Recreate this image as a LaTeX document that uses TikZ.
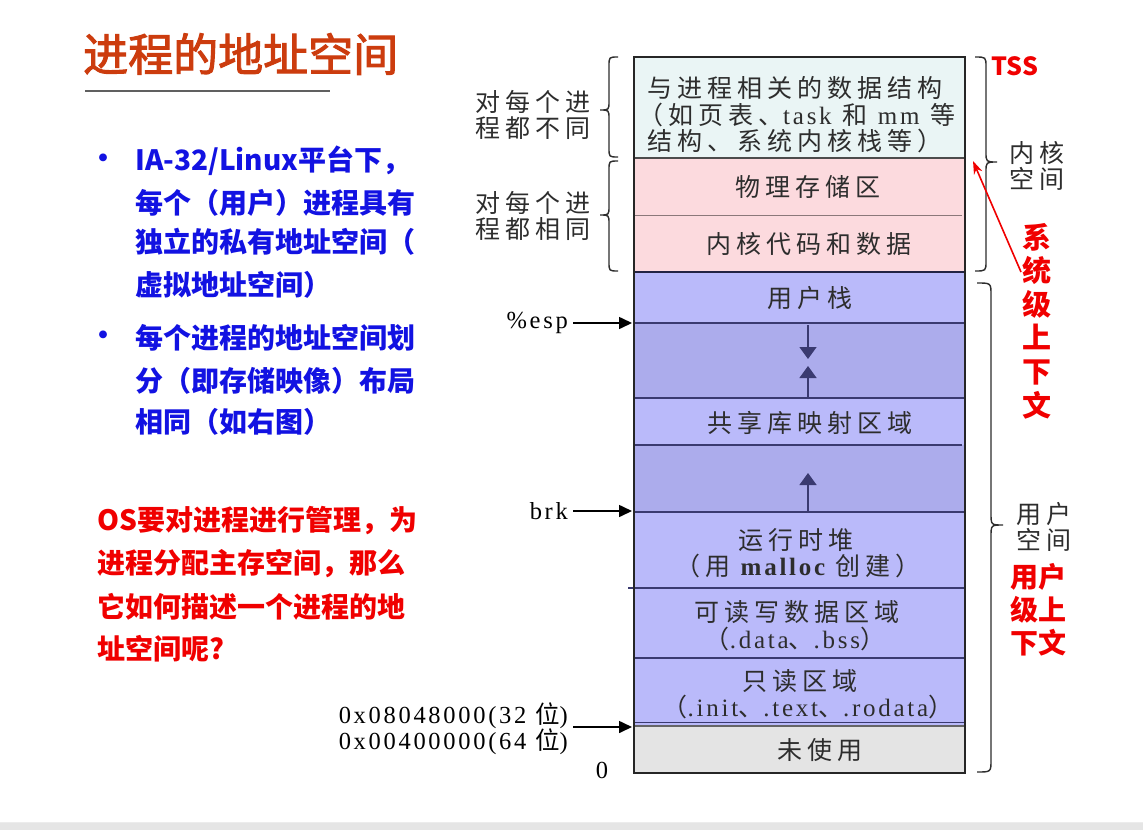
\documentclass[tikz,border=0pt]{standalone}
\usepackage{fontspec}
\setmainfont{Liberation Serif}
\newfontfamily\cjk{Noto Sans CJK SC}
\newfontfamily\cjkt[FakeBold=2.2]{Noto Sans CJK SC}
\newfontfamily\cjkw[LetterSpace=20]{Noto Sans CJK SC}
\newfontfamily\srf[LetterSpace=11]{Liberation Serif}
\usetikzlibrary{arrows.meta}
\newcommand{\sr}[1]{{\srf #1}}
\newcommand{\srb}[1]{{\srf\bfseries #1}}

\definecolor{titlec}{RGB}{204,60,14}
\definecolor{bluet}{RGB}{18,18,226}
\definecolor{redt}{RGB}{240,0,0}
\definecolor{cyanf}{RGB}{234,245,245}
\definecolor{pinkf}{RGB}{252,218,222}
\definecolor{ublue}{RGB}{186,186,250}
\definecolor{dblue}{RGB}{172,172,236}
\definecolor{grayf}{RGB}{228,228,228}
\definecolor{navy}{RGB}{58,58,112}
\definecolor{txt}{RGB}{45,45,45}
\definecolor{bandgray}{RGB}{229,229,229}

\begin{document}
\begin{tikzpicture}[x=1pt,y=-1pt,
  seg/.style={rectangle, draw=none, minimum width=331pt, inner sep=0pt, outer sep=0pt, anchor=north west},
  dtxt/.style={font=\cjkw\fontsize{25}{28}\selectfont, text=txt, inner sep=0pt},
  side/.style={font=\cjkw\fontsize{25}{25.5}\selectfont, text=txt, inner sep=0pt, align=center},
  lbl/.style={font=\srf\fontsize{24.5}{26}\selectfont, text=black, inner sep=5pt},
  harr/.style={-{Triangle[length=13pt,width=12pt]}, line width=1.6pt, black},
  varr/.style={-{Triangle[length=12pt,width=17pt]}, line width=1.5pt, navy},
  segline/.style={navy, line width=1.4pt},
  brc/.style={draw=txt, line width=1.4pt},
  bl/.style={font=\cjk\bfseries\fontsize{28}{34}\selectfont, text=bluet, anchor=west, inner sep=0pt},
  rd/.style={font=\cjk\bfseries\fontsize{28}{34}\selectfont, text=redt, anchor=west, inner sep=0pt}
]
\useasboundingbox (0,0) rectangle (1143,830);
\fill[white] (0,0) rectangle (1143,830);
\fill[bandgray] (0,823) rectangle (1143,830);
\draw[gray!15, line width=1pt] (0,822.5) -- (1143,822.5);

% title
\node[anchor=west, inner sep=0pt, font=\cjkt\fontsize{45}{54}\selectfont, text=titlec] (title) at (83,54) {进程的地址空间};
\coordinate (ulA) at (85,91);
\coordinate (ulB) at (330,91);
\draw[gray!75!black, line width=1.5pt] (ulA) -- (ulB);

% bullet list
\node[bl] (dot1) at (89,161) {•};
\node[bl] (b1) at (135,161) {IA-32/Linux平台下，};
\node[bl] (b2) at (135,203) {每个（用户）进程具有};
\node[bl] (b3) at (135,242) {独立的私有地址空间（};
\node[bl] (b4) at (135,285) {虚拟地址空间）};
\node[bl] (dot2) at (89,338) {•};
\node[bl] (b5) at (135,338) {每个进程的地址空间划};
\node[bl] (b6) at (135,381) {分（即存储映像）布局};
\node[bl] (b7) at (135,422) {相同（如右图）};

% question
\node[rd] (q1) at (97,521) {OS要对进程进行管理，为};
\node[rd] (q2) at (97,564) {进程分配主存空间，那么};
\node[rd] (q3) at (97,607) {它如何描述一个进程的地};
\node[rd] (q4) at (97,649) {址空间呢?};

% memory layout column
\node[seg, fill=cyanf, minimum height=101pt] (kds) at (634,57) {};
\node[seg, fill=pinkf, minimum height=57pt] (phys) at (634,158) {};
\node[seg, fill=pinkf, minimum height=57pt] (kcode) at (634,215) {};
\node[seg, fill=ublue, minimum height=51pt] (ustack) at (634,272) {};
\node[seg, fill=dblue, minimum height=75pt] (gap1) at (634,323) {};
\node[seg, fill=ublue, minimum height=47pt] (shlib) at (634,398) {};
\node[seg, fill=dblue, minimum height=67pt] (gap2) at (634,445) {};
\node[seg, fill=ublue, minimum height=76pt] (heap) at (634,512) {};
\node[seg, fill=ublue, minimum height=70pt] (data) at (634,588) {};
\node[seg, fill=ublue, minimum height=68pt] (rodata) at (634,658) {};
\node[seg, fill=grayf, minimum height=47pt] (unused) at (634,726) {};

% separators
\draw[black!70, line width=1.2pt] (phys.north west) -- (phys.north east);
\draw[black!45!pinkf, line width=1pt] (kcode.north west) -- ([xshift=-3pt]kcode.north east);
\draw[segline] (gap1.north west) -- (gap1.north east);
\draw[segline] (shlib.north west) -- (shlib.north east);
\draw[segline] (gap2.north west) -- ([xshift=-3pt]gap2.north east);
\draw[segline] (heap.north west) -- (heap.north east);
\draw[segline] ([xshift=-6pt]data.north west) -- (data.north east);
\draw[segline] (rodata.north west) -- (rodata.north east);
\coordinate (roL) at (634,722.5);
\coordinate (roR) at (965,722.5);
\draw[segline] (roL) -- (roR);
\draw[black!60, line width=1.2pt] (unused.north west) -- (unused.north east);
\draw[navy!60!black, line width=2.8pt] (ustack.north west) -- (ustack.north east);
% outline
\draw[black!85, line width=1.8pt] (kds.north west) rectangle (unused.south east);

% growth arrows
\coordinate (dnA) at (808,325);
\coordinate (dnB) at (808,359);
\coordinate (upA) at (808,398);
\coordinate (upB) at (808,366);
\coordinate (hpA) at (808,512);
\coordinate (hpB) at (808,473);
\draw[varr] (dnA) -- (dnB);
\draw[varr] (upA) -- (upB);
\draw[varr] (hpA) -- (hpB);

% segment texts
\node[dtxt, anchor=west] (k1) at (647,88) {与进程相关的数据结构};
\node[dtxt, anchor=west] (k2) at (638,115) {（如页表、\sr{task} 和 \sr{mm} 等};
\node[dtxt, anchor=west] (k3) at (647,141) {结构、系统内核栈等）};
\node[dtxt] (t1) at (808,187) {物理存储区};
\node[dtxt] (t2) at (809,244) {内核代码和数据};
\node[dtxt] (t3) at (810,298) {用户栈};
\node[dtxt] (t4) at (810,423) {共享库映射区域};
\node[dtxt] (t5) at (796,540) {运行时堆};
\node[dtxt] (t6) at (798,566) {（用 \srb{malloc} 创建）};
\node[dtxt] (t7) at (797,612) {可读写数据区域};
\node[dtxt] (t8) at (795,639) {（\sr{.data}、\sr{.bss}）};
\node[dtxt] (t9) at (800,681) {只读区域};
\node[dtxt] (t10) at (808,707) {（\sr{.init}、\sr{.text}、\sr{.rodata}）};
\node[dtxt] (t11) at (820,750) {未使用};

% pointers on the left
\node[lbl, anchor=east] (esp) at (573,323) {\%esp};
\coordinate (espT) at (632,323);
\draw[harr] (esp) -- (espT);
\node[lbl, anchor=east] (brk) at (573,511) {brk};
\coordinate (brkT) at (632,511);
\draw[harr] (brk) -- (brkT);
\node[lbl, anchor=east, align=right] (addr) at (573,729) {0x08048000(32 {\cjk 位})\\0x00400000(64 {\cjk 位})};
\coordinate (addrT) at (632,727);
\draw[harr] (addr.east |- addrT) -- (addrT);
\node[lbl, inner sep=0pt] (zero) at (602,770) {0};

% left braces
\node[side] (diff) at (533,115) {对每个进\\程都不同};
\node[side] (same) at (533,216) {对每个进\\程都相同};
\draw[brc] (618,57) .. controls (609,57) .. (609,66) -- (609,101) .. controls (609,110) .. (600,110) .. controls (609,110) .. (609,119) -- (609,148) .. controls (609,157) .. (618,157);
\draw[brc] (618,161) .. controls (609,161) .. (609,170) -- (609,206) .. controls (609,215) .. (600,215) .. controls (609,215) .. (609,224) -- (609,262) .. controls (609,271) .. (618,271);

% right braces
\draw[brc] (975,57) .. controls (986,57) .. (986,67) -- (986,152) .. controls (986,162) .. (997,162) .. controls (986,162) .. (986,172) -- (986,261) .. controls (986,271) .. (975,271);
\draw[brc] (977,283) .. controls (991,283) .. (991,295) -- (991,513) .. controls (991,525) .. (1003,525) .. controls (991,525) .. (991,537) -- (991,760) .. controls (991,772) .. (977,772);
\node[side] (kspace) at (1037,166) {内核\\空间};
\node[side] (uspace) at (1044,527) {用户\\空间};

% red annotations
\node[inner sep=0pt, font=\cjk\bfseries\fontsize{25}{30}\selectfont, text=redt] (tss) at (1015,66) {TSS};
\node[inner sep=0pt, align=center, font=\cjk\bfseries\fontsize{29}{33.6}\selectfont, text=redt] (sysctx) at (1037,321) {系\\统\\级\\上\\下\\文};
\node[inner sep=0pt, align=center, font=\cjk\bfseries\fontsize{28}{33}\selectfont, text=redt] (usrctx) at (1038.5,610) {用户\\级上\\下文};
\coordinate (sysS) at (1021,272);
\coordinate (sysT) at (973,161);
\draw[redt, line width=1.6pt, -{Stealth[length=13pt,width=9pt]}] (sysS) -- (sysT);
\end{tikzpicture}
\end{document}
